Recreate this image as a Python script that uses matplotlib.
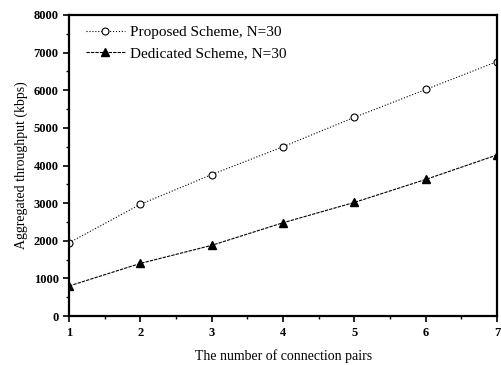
import matplotlib

matplotlib.use("Agg")

import matplotlib.pyplot as plt
from matplotlib.ticker import MultipleLocator

pairs = [1, 2, 3, 4, 5, 6, 7]
proposed = [1950, 2970, 3760, 4500, 5280, 6020, 6760]
dedicated = [800, 1400, 1880, 2480, 3020, 3630, 4280]

plt.rcParams["font.family"] = ["Liberation Serif", "DejaVu Serif"]

fig = plt.figure(figsize=(5.01, 3.65), dpi=100)
ax = fig.add_axes([0.138, 0.134, 0.854, 0.825])

ax.plot(pairs, proposed, linestyle=":", color="black", linewidth=0.8,
        marker="o", markersize=5, markerfacecolor="white", markeredgewidth=0.8,
        label="Proposed Scheme, N=30")
ax.plot(pairs, dedicated, linestyle=(0, (3, 1)), color="black", linewidth=0.8,
        marker="^", markersize=6, markerfacecolor="black",
        label="Dedicated Scheme, N=30")

ax.set_xlim(1, 7)
ax.set_ylim(0, 8000)
ax.xaxis.set_major_locator(MultipleLocator(1))
ax.xaxis.set_minor_locator(MultipleLocator(0.5))
ax.yaxis.set_major_locator(MultipleLocator(1000))
ax.yaxis.set_minor_locator(MultipleLocator(500))
ax.tick_params(which="major", direction="out", length=4, width=1.2, labelsize=9)
ax.tick_params(which="minor", direction="out", length=2.5, width=1)
for lbl in ax.get_xticklabels() + ax.get_yticklabels():
    lbl.set_fontweight("bold")
for side in ax.spines.values():
    side.set_linewidth(1.6)

ax.set_xlabel("The number of connection pairs", fontsize=10, labelpad=8)
ax.set_ylabel("Aggregated throughput (kbps)", fontsize=10, labelpad=4)
ax.legend(loc="upper left", frameon=False, fontsize=11, handlelength=2.6,
          handletextpad=0.3, borderaxespad=0.4, labelspacing=0.45,
          bbox_to_anchor=(0.01, 1.005))

fig.savefig("out.png", dpi=100)
